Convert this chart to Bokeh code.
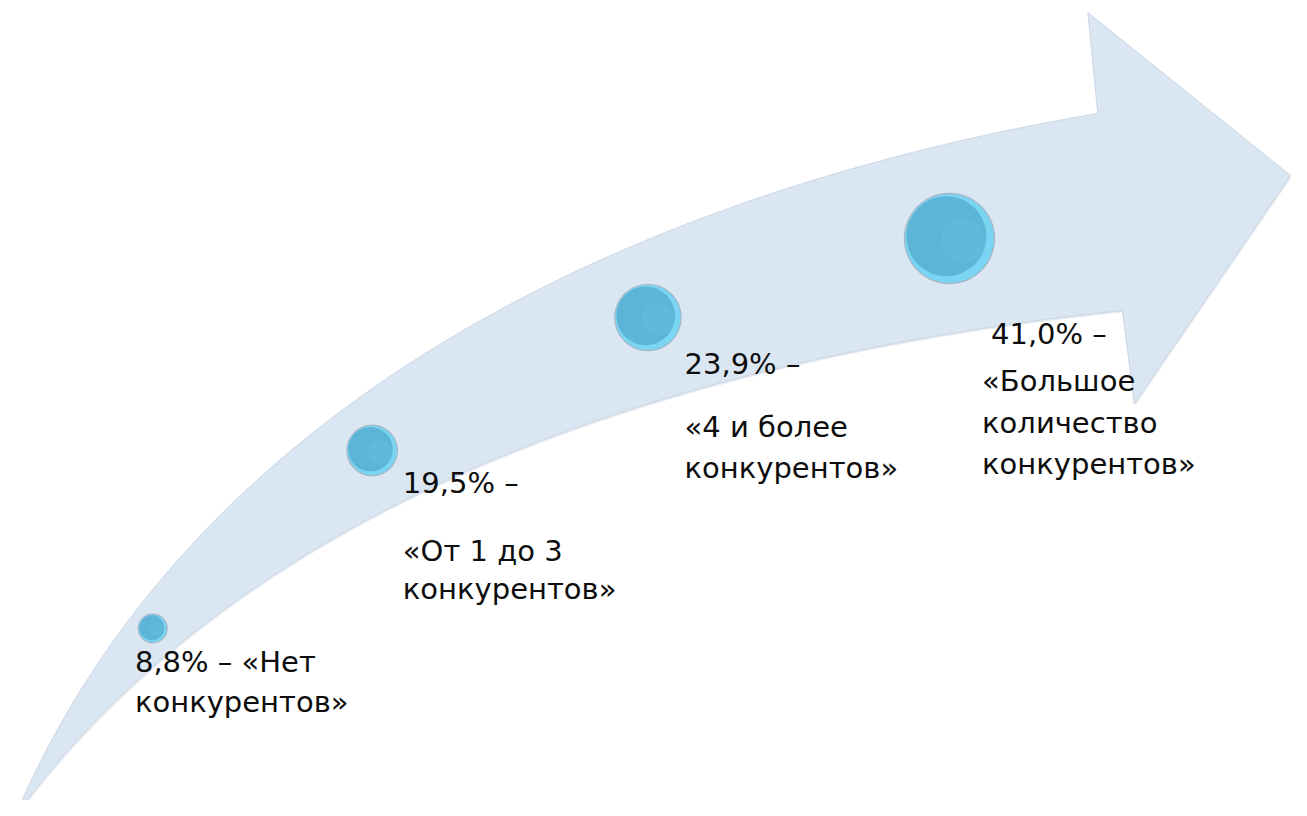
import numpy as np
from bokeh.plotting import figure
from bokeh.models import Range1d, ColumnDataSource
from bokeh.core.properties import value
from bokeh.embed import file_html
from bokeh.resources import INLINE

# ---- data ----
values = [8.8, 19.5, 23.9, 41.0]
categories = ["Нет конкурентов", "От 1 до 3 конкурентов",
              "4 и более конкурентов", "Большое количество конкурентов"]
label_lines = [
    ["8,8% – «Нет", "конкурентов»"],
    ["19,5% –", "«От 1 до 3", "конкурентов»"],
    ["23,9% –", "«4 и более", "конкурентов»"],
    ["41,0% –", "«Большое", "количество", "конкурентов»"],
]

# ---- layout (pixel space of the picture) ----
circle_x = [154, 376, 655, 960]
circle_y = [628, 450, 317, 238]
circle_r = [14, 25, 33, 45]
label_x = [136, 407, 692, 1002]
label_base = [[661, 701], [482, 550, 588], [363, 426, 467], [333, 380, 422, 463]]
label_x_off = [[0, 0], [0, 0, 0], [0, 0, 0], [0, -9, -9, -9]]

upper_pts = [(15, 815), (50, 738), (100, 664), (140, 613), (165, 583), (217, 516),
             (283, 452), (377, 387), (450, 342), (550, 286), (655, 238), (780, 195),
             (880, 164), (980, 138), (1110, 113)]
lower_pts = [(15, 815), (50, 774), (83, 737), (120, 697), (183, 633), (233, 595),
             (300, 557), (350, 533), (410, 505), (500, 466), (540, 450), (620, 414),
             (710, 383), (800, 359), (900, 342), (1000, 327), (1135, 310)]
head_pts = [(1100, 12), (1305, 175), (1147, 403)]


def fit_bezier(pts, n=240):
    pts = np.array(pts, float)
    d = np.r_[0, np.cumsum(np.hypot(*np.diff(pts, axis=0).T))]
    t = d / d[-1]
    P0, P3 = pts[0], pts[-1]
    for _ in range(4):
        b0 = (1 - t) ** 3
        b1 = 3 * (1 - t) ** 2 * t
        b2 = 3 * (1 - t) * t ** 2
        b3 = t ** 3
        A = np.c_[b1, b2]
        R = pts - np.outer(b0, P0) - np.outer(b3, P3)
        C = np.linalg.lstsq(A, R, rcond=None)[0]
        P1, P2 = C
        tt = np.linspace(0, 1, 2000)
        curve = (np.outer((1 - tt) ** 3, P0) + np.outer(3 * (1 - tt) ** 2 * tt, P1)
                 + np.outer(3 * (1 - tt) * tt ** 2, P2) + np.outer(tt ** 3, P3))
        idx = [np.argmin(np.hypot(*(curve - q).T)) for q in pts]
        t = tt[idx]
        t[0], t[-1] = 0.0, 1.0
    tt = np.linspace(0, 1, n)
    return (np.outer((1 - tt) ** 3, P0) + np.outer(3 * (1 - tt) ** 2 * tt, P1)
            + np.outer(3 * (1 - tt) * tt ** 2, P2) + np.outer(tt ** 3, P3))


up = fit_bezier(upper_pts)
lo = fit_bezier(lower_pts)[::-1]
head = np.array(head_pts, float)
poly = np.vstack([up, head, lo])

W, H = 1291, 800
p = figure(width=W, height=H, x_range=Range1d(0, 1306), y_range=Range1d(800, 0),
           output_backend="svg", toolbar_location=None, min_border=0,
           background_fill_color="white", border_fill_color="white")
p.axis.visible = False
p.xgrid.visible = False
p.ygrid.visible = False
p.outline_line_color = None

# soft shadow of arrow
p.patch(poly[:, 0] + 1.2, poly[:, 1] + 1.8, fill_color="#B8C6D6", fill_alpha=0.35, line_color=None)
p.patch(poly[:, 0], poly[:, 1], fill_color="#DBE6F3", line_color="#C9D6E4", line_width=1.0)

# circles with a layered glossy look
cs = ColumnDataSource(dict(
    x=circle_x, y=circle_y, r=circle_r, v=values, c=categories,
    r_out=[r + 1.2 for r in circle_r],
    r_in=[r * 0.9 for r in circle_r],
    x_in=[x - r * 0.07 for x, r in zip(circle_x, circle_r)],
    y_in=[y - r * 0.05 for y, r in zip(circle_y, circle_r)],
    r_hl=[r * 0.5 for r in circle_r],
    x_hl=[x + r * 0.3 for x, r in zip(circle_x, circle_r)],
    y_hl=[y + r * 0.05 for y, r in zip(circle_y, circle_r)],
))
p.circle(x="x", y="y", radius="r_out", source=cs, fill_color="#8398A6", fill_alpha=0.6, line_color=None)
p.circle(x="x", y="y", radius="r", source=cs, fill_color="#7AD5F2", line_color=None)
p.circle(x="x_in", y="y_in", radius="r_in", source=cs, fill_color="#5CB5D6", line_color=None)
p.circle(x="x_hl", y="y_hl", radius="r_hl", source=cs, fill_color="#6CC8E8", fill_alpha=0.22, line_color=None)

# labels
tx, ty, tt = [], [], []
for i, lines in enumerate(label_lines):
    for j, s in enumerate(lines):
        tx.append(label_x[i] + label_x_off[i][j])
        ty.append(label_base[i][j])
        tt.append(s)
p.text(x=tx, y=ty, text=tt, text_font=value("DejaVu Sans"), text_font_size="29px",
       text_color="#0d0d0d", text_baseline="alphabetic", text_align="left")

open("out.html", "w").write(file_html(p, INLINE))
